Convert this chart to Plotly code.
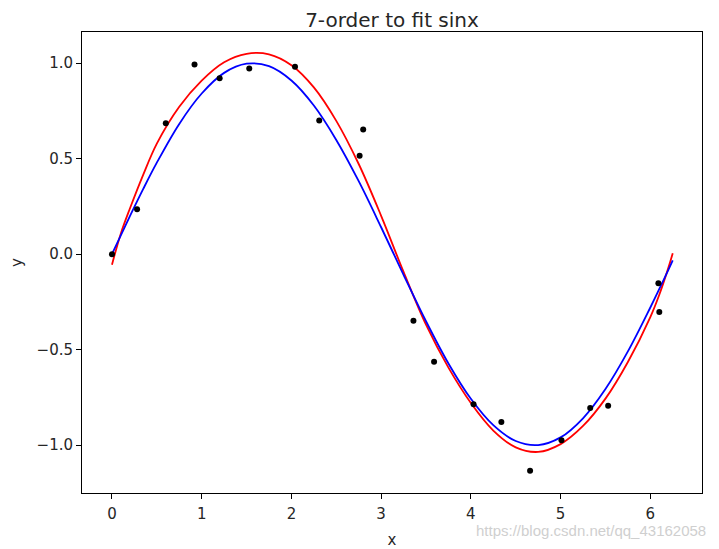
import plotly.graph_objects as go

# scatter samples
pts_x = [0.0, 0.28, 0.60, 0.92, 1.20, 1.53, 2.04, 2.31, 2.76, 2.80,
         3.36, 3.59, 4.03, 4.34, 4.66, 5.01, 5.33, 5.53, 6.09, 6.10]
pts_y = [0.0, 0.235, 0.686, 0.993, 0.921, 0.972, 0.981, 0.700, 0.515, 0.653,
         -0.349, -0.563, -0.786, -0.878, -1.133, -0.974, -0.805, -0.793, -0.152, -0.303]

# curve sample positions
curve_x = [0, 0.1, 0.2, 0.35, 0.5, 0.75, 1.0, 1.25, 1.5, 1.75, 2.0, 2.25, 2.5, 2.75,
           3.0, 3.25, 3.5, 3.75, 4.0, 4.25, 4.5, 4.75, 5.0, 5.25, 5.5, 5.75, 6.0,
           6.1, 6.2, 6.25]
# 7-order fit (red)
fit_y = [-0.055, 0.110, 0.239, 0.418, 0.579, 0.772, 0.909, 1.005, 1.049, 1.046,
         0.989, 0.873, 0.698, 0.472, 0.201, -0.093, -0.369, -0.594, -0.779, -0.923,
         -1.011, -1.035, -0.994, -0.899, -0.756, -0.564, -0.329, -0.212, -0.073, 0.005]
# sin x (blue)
sin_y = [0.0, 0.100, 0.199, 0.343, 0.479, 0.682, 0.841, 0.949, 0.997, 0.984,
         0.909, 0.778, 0.598, 0.382, 0.141, -0.108, -0.351, -0.572, -0.757, -0.895,
         -0.978, -0.999, -0.959, -0.859, -0.706, -0.509, -0.279, -0.182, -0.083, -0.033]

x_ticks = [0, 1, 2, 3, 4, 5, 6]
y_ticks = [-1.0, -0.5, 0.0, 0.5, 1.0]

FONT = "DejaVu Sans"
TXT = "#262626"

fig = go.Figure()
fig.add_trace(go.Scatter(x=curve_x, y=fit_y, mode="lines",
                         line=dict(color="#ff0000", width=1.8, shape="spline"),
                         showlegend=False, hoverinfo="skip"))
fig.add_trace(go.Scatter(x=curve_x, y=sin_y, mode="lines",
                         line=dict(color="#0000ff", width=1.8, shape="spline"),
                         showlegend=False, hoverinfo="skip"))
fig.add_trace(go.Scatter(x=pts_x, y=pts_y, mode="markers",
                         marker=dict(color="black", size=6),
                         showlegend=False))

axis_common = dict(showline=True, linecolor="black", linewidth=1, mirror=True,
                   ticks="outside", ticklen=5, tickwidth=1, tickcolor="black",
                   showgrid=False, zeroline=False, automargin=False,
                   tickfont=dict(family=FONT, size=15, color=TXT))

fig.update_layout(
    width=711, height=541,
    margin=dict(l=73.5, r=17, t=24, b=56),
    paper_bgcolor="white", plot_bgcolor="white",
    title=dict(text="7-order to fit sinx", x=0.5, xref="paper", xanchor="center",
               y=0.978, yanchor="middle", yref="container",
               font=dict(family=FONT, size=20, color=TXT)),
    xaxis=dict(range=[-0.334, 6.576], tickvals=x_ticks,
               ticktext=[str(v) for v in x_ticks], ticklabelstandoff=2,
               title=dict(text="x", standoff=12, font=dict(family=FONT, size=15, color=TXT)),
               **axis_common),
    yaxis=dict(range=[-1.25, 1.163], tickvals=y_ticks, tickformat=".1f",
               title=dict(text="y", standoff=19, font=dict(family=FONT, size=15, color=TXT)),
               **axis_common),
    annotations=[dict(text="https://blog.csdn.net/qq_43162058", xref="paper", yref="paper",
                      x=1.0097, y=-0.082, xanchor="right", yanchor="middle", showarrow=False,
                      font=dict(family="Liberation Sans", size=15, color="#cfcfcf"))],
)

fig.write_html("out.html")
